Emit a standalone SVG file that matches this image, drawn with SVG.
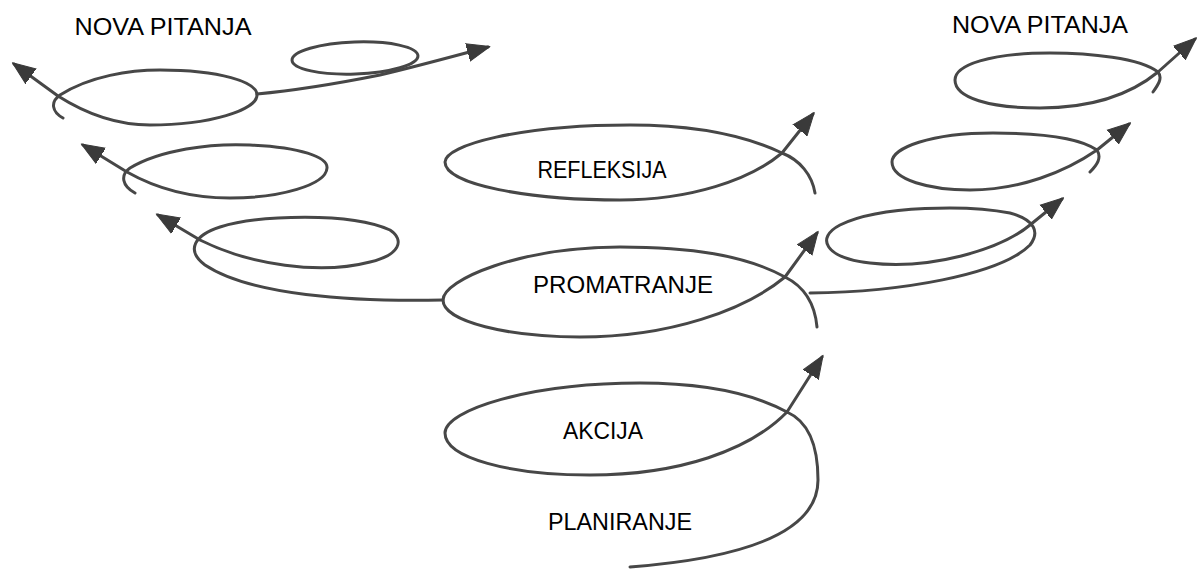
<svg xmlns="http://www.w3.org/2000/svg" width="1197" height="571" viewBox="0 0 1197 571">
<defs>
<marker id="ah" markerUnits="userSpaceOnUse" markerWidth="24" markerHeight="20" refX="21" refY="10" orient="auto">
<path d="M0,1 L23,10 L0,19 z" fill="#3a3a3a" stroke="#3a3a3a" stroke-width="1" stroke-linejoin="round"/>
</marker>
<style>
.c{fill:none;stroke:#474747;stroke-width:3;stroke-linecap:round;stroke-linejoin:round}
.a{marker-end:url(#ah)}
.t{font-family:"Liberation Sans",Arial,sans-serif;font-size:23px;fill:#000;text-anchor:middle}
</style>
</defs>
<rect width="1197" height="571" fill="#fff"/>
<g id="connectors">
<path class="c a" d="M63 118 C52 112,50 102,60 95 C90 76,130 70,160 70 C220 70,257 82,257 95 C257 110,210 125,150 125 C110 125,80 110,58 96 L14 64"/>
<path class="c a" d="M257 94 C300 90,340 83,380 75 C410 68,440 60,488 47"/>
<ellipse class="c" cx="355" cy="58" rx="63" ry="16" transform="rotate(-2 355 58)"/>
<path class="c a" d="M135 193 C122 186,120 175,130 168 C160 150,210 143,250 145 C300 147,328 157,327 168 C326 185,280 198,230 198 C185 198,150 185,127 172 L83 145"/>
<path class="c a" d="M443 300 C350 302,250 295,205 265 C185 250,195 235,220 227 C260 215,350 212,390 230 C405 240,400 255,370 262 C320 275,250 265,200 240 L158 215"/>
<path class="c a" d="M815 193 C812 175,800 160,782 153 C740 133,690 125,630 125 C520 125,445 145,445 162 C445 185,530 200,620 200 C690 200,750 180,782 153 L813 114"/>
<path class="c a" d="M817 327 C815 305,805 287,785 277 C745 255,690 247,620 247 C520 247,443 280,443 300 C443 322,510 337,580 337 C670 337,745 310,785 277 L817 233"/>
<path class="c a" d="M630 567 C720 560,818 540,818 480 C818 440,805 420,787 412 C750 392,700 383,640 383 C530 383,445 410,445 433 C445 458,510 475,590 475 C680 475,750 450,787 412 L822 357"/>
<path class="c a" d="M810 293 C900 292,1000 275,1030 245 C1040 232,1035 220,1010 213 C970 205,880 205,840 225 C815 238,825 258,870 263 C930 270,1000 250,1030 225 L1062 199"/>
<path class="c a" d="M1090 172 C1097 165,1102 158,1097 150 C1080 138,1040 133,993 133 C930 133,892 148,892 162 C892 180,930 190,970 190 C1020 190,1065 172,1097 150 L1129 124"/>
<path class="c a" d="M1153 92 C1158 85,1163 78,1158 72 C1140 58,1090 53,1050 53 C990 53,955 65,955 80 C955 98,990 108,1040 108 C1090 108,1130 95,1158 72 L1195 39"/>
</g>
<g id="n-nova-left"><text class="t" x="163" y="35" textLength="177" lengthAdjust="spacingAndGlyphs">NOVA PITANJA</text></g>
<g id="n-nova-right"><text class="t" x="1040" y="33" textLength="176" lengthAdjust="spacingAndGlyphs">NOVA PITANJA</text></g>
<g id="n-refleksija"><text class="t" x="602" y="178" textLength="129" lengthAdjust="spacingAndGlyphs">REFLEKSIJA</text></g>
<g id="n-promatranje"><text class="t" x="623" y="293" textLength="180" lengthAdjust="spacingAndGlyphs">PROMATRANJE</text></g>
<g id="n-akcija"><text class="t" x="603" y="439" textLength="80" lengthAdjust="spacingAndGlyphs">AKCIJA</text></g>
<g id="n-planiranje"><text class="t" x="620" y="530" textLength="144" lengthAdjust="spacingAndGlyphs">PLANIRANJE</text></g>
</svg>
